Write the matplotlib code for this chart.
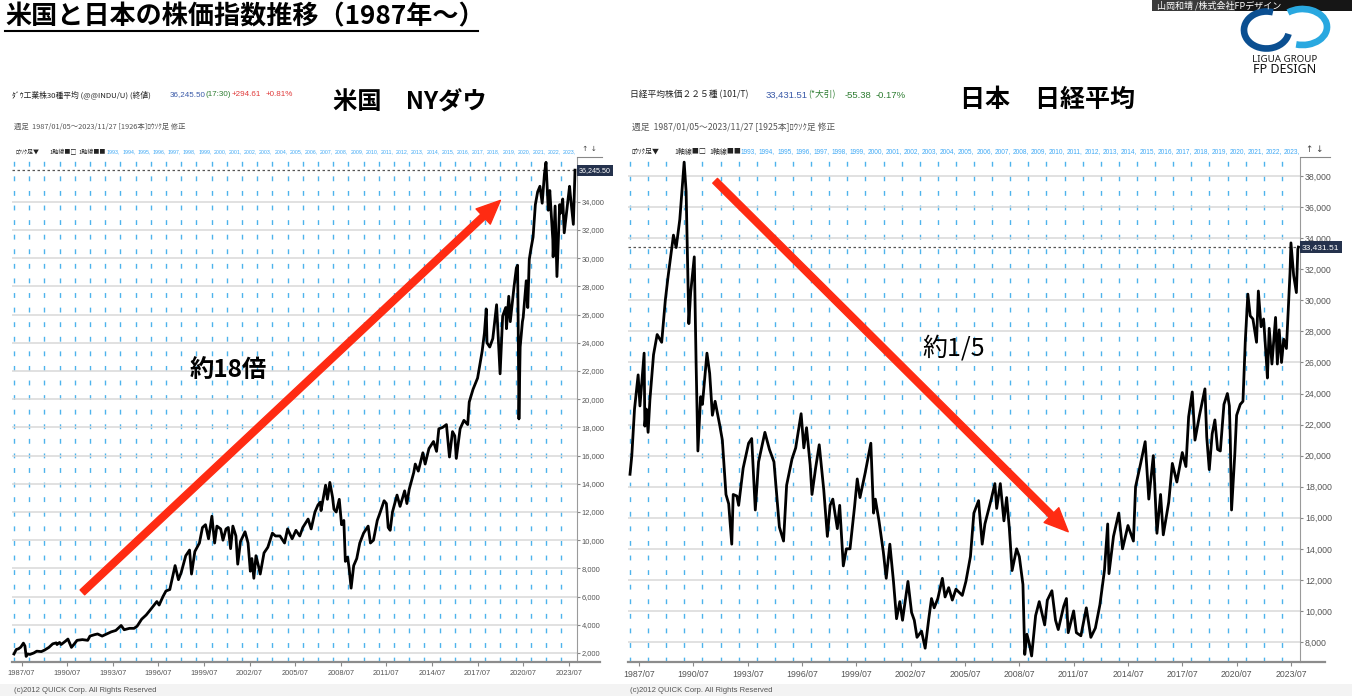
import matplotlib.pyplot as plt
from matplotlib.patches import Rectangle, Arc

plt.rcParams['font.family'] = ['Noto Sans CJK JP', 'DejaVu Sans']
narrow = ['Liberation Sans Narrow', 'Liberation Sans', 'DejaVu Sans']

# ---- data (decimal year, index value) ----
us_t = [1987.00, 1987.15, 1987.30, 1987.45, 1987.62, 1987.72, 1987.80, 1987.90,
        1988.05, 1988.30, 1988.50, 1988.80, 1989.00, 1989.30, 1989.55, 1989.78,
        1989.83, 1990.00, 1990.10, 1990.40, 1990.55, 1990.78, 1990.95, 1991.15,
        1991.50, 1991.85, 1992.00, 1992.30, 1992.50, 1992.80, 1993.00, 1993.40,
        1993.70, 1994.05, 1994.25, 1994.60, 1994.90, 1995.10, 1995.40, 1995.70,
        1996.00, 1996.40, 1996.55, 1996.80, 1997.00, 1997.25, 1997.50, 1997.60,
        1997.82, 1998.00, 1998.30, 1998.55, 1998.68, 1998.90, 1999.20, 1999.40,
        1999.60, 1999.80, 2000.02, 2000.20, 2000.35, 2000.60, 2000.75, 2000.95,
        2001.10, 2001.25, 2001.40, 2001.60, 2001.72, 2001.90, 2002.20, 2002.40,
        2002.55, 2002.65, 2002.78, 2002.92, 2003.10, 2003.20, 2003.45, 2003.70,
        2004.00, 2004.20, 2004.50, 2004.80, 2005.00, 2005.30, 2005.55, 2005.80,
        2006.00, 2006.35, 2006.55, 2006.80, 2007.00, 2007.15, 2007.20, 2007.50,
        2007.62, 2007.78, 2007.95, 2008.05, 2008.20, 2008.40, 2008.55, 2008.70,
        2008.80, 2008.95, 2009.05, 2009.18, 2009.35, 2009.55, 2009.75, 2010.00,
        2010.30, 2010.45, 2010.65, 2010.90, 2011.10, 2011.35, 2011.50, 2011.62,
        2011.75, 2011.90, 2012.20, 2012.40, 2012.70, 2012.85, 2013.00, 2013.30,
        2013.40, 2013.60, 2013.90, 2014.05, 2014.30, 2014.60, 2014.80, 2014.95,
        2015.20, 2015.45, 2015.65, 2015.85, 2016.00, 2016.10, 2016.35, 2016.60,
        2016.85, 2016.95, 2017.20, 2017.50, 2017.80, 2017.95, 2018.07, 2018.12,
        2018.30, 2018.50, 2018.75, 2018.85, 2018.98, 2019.15, 2019.35, 2019.40,
        2019.55, 2019.65, 2019.90, 2020.05, 2020.13, 2020.17, 2020.22, 2020.30,
        2020.45, 2020.50, 2020.70, 2020.80, 2020.90, 2021.00, 2021.15, 2021.30,
        2021.45, 2021.60, 2021.75, 2021.90, 2022.00, 2022.15, 2022.25, 2022.45,
        2022.47, 2022.60, 2022.72, 2022.90, 2022.97, 2023.10, 2023.20, 2023.40,
        2023.55, 2023.60, 2023.80, 2023.91]
us_v = [1930, 2250, 2300, 2420, 2700, 2500, 1760, 1930,
        1900, 2000, 2130, 2100, 2200, 2400, 2650, 2720,
        2600, 2750, 2600, 2850, 2990, 2400, 2620, 2900,
        2950, 2900, 3200, 3300, 3350, 3200, 3300, 3500,
        3600, 3950, 3650, 3750, 3750, 3900, 4400, 4700,
        5100, 5650, 5400, 6000, 6400, 6500, 7700, 8200,
        7200, 7700, 8900, 9300, 7600, 9200, 9800, 10900,
        11100, 10100, 11700, 9800, 11000, 10800, 10000, 10800,
        10900, 9400, 11000, 10300, 8300, 9900, 10600, 9800,
        7800, 8700, 7300, 8900, 8100, 7600, 9100, 9500,
        10500, 10300, 10300, 9800, 10800, 10100, 10700, 10300,
        10900, 11500, 10800, 12000, 12500, 12700, 12100, 13900,
        12900, 14100, 13100, 12200, 12000, 12900, 11100, 11400,
        8500, 8800, 8000, 6600, 8200, 8700, 9800, 10500,
        11000, 9800, 10000, 11400, 12000, 12800, 12600, 10900,
        10700, 12000, 13200, 12400, 13500, 12600, 13600, 14800,
        15400, 14900, 16200, 15400, 16500, 17000, 16300, 17900,
        18000, 18200, 15900, 17700, 17400, 15800, 17900, 18500,
        18200, 19800, 20700, 21500, 23400, 24700, 26400, 24000,
        23700, 24300, 26700, 24500, 21800, 25900, 26500, 25000,
        27300, 25500, 28000, 29300, 29500, 25400, 18600, 23700,
        25500, 25800, 28400, 26500, 29900, 30600, 31500, 33800,
        34700, 35100, 33900, 36000, 36800, 33400, 34800, 31300,
        30100, 33700, 28700, 33800, 33200, 34200, 31800, 33700,
        35100, 34500, 32400, 36245]

jp_t = [1987.00, 1987.10, 1987.25, 1987.45, 1987.55, 1987.78, 1987.82, 1987.90,
        1988.00, 1988.10, 1988.30, 1988.50, 1988.75, 1988.95, 1989.10, 1989.40,
        1989.55, 1989.75, 1989.99, 1990.10, 1990.25, 1990.35, 1990.55, 1990.65,
        1990.75, 1990.90, 1991.00, 1991.25, 1991.40, 1991.55, 1991.70, 1991.95,
        1992.10, 1992.30, 1992.45, 1992.62, 1992.70, 1992.90, 1993.00, 1993.25,
        1993.55, 1993.72, 1993.92, 1994.10, 1994.45, 1994.70, 1994.95, 1995.10,
        1995.25, 1995.48, 1995.65, 1995.95, 1996.15, 1996.45, 1996.60, 1996.75,
        1996.95, 1997.05, 1997.25, 1997.45, 1997.70, 1997.90, 1998.05, 1998.20,
        1998.45, 1998.58, 1998.78, 1998.95, 1999.15, 1999.40, 1999.55, 1999.70,
        1999.99, 2000.30, 2000.45, 2000.55, 2000.75, 2000.99, 2001.15, 2001.35,
        2001.55, 2001.72, 2001.90, 2002.05, 2002.35, 2002.55, 2002.70, 2002.85,
        2003.10, 2003.30, 2003.50, 2003.65, 2003.80, 2004.00, 2004.25, 2004.40,
        2004.60, 2004.80, 2005.00, 2005.35, 2005.55, 2005.80, 2005.99, 2006.25,
        2006.45, 2006.60, 2006.95, 2007.15, 2007.25, 2007.45, 2007.65, 2007.80,
        2007.95, 2008.10, 2008.35, 2008.50, 2008.70, 2008.80, 2008.92, 2009.05,
        2009.18, 2009.40, 2009.60, 2009.90, 2010.05, 2010.30, 2010.50, 2010.65,
        2010.95, 2011.10, 2011.20, 2011.50, 2011.65, 2011.90, 2012.20, 2012.45,
        2012.70, 2012.95, 2013.20, 2013.38, 2013.45, 2013.70, 2013.99, 2014.20,
        2014.50, 2014.80, 2014.92, 2015.20, 2015.45, 2015.65, 2015.90, 2016.10,
        2016.30, 2016.45, 2016.75, 2016.95, 2017.20, 2017.50, 2017.70, 2017.85,
        2018.05, 2018.20, 2018.45, 2018.75, 2018.85, 2018.99, 2019.15, 2019.30,
        2019.45, 2019.60, 2019.80, 2019.99, 2020.10, 2020.15, 2020.22, 2020.40,
        2020.50, 2020.70, 2020.85, 2020.98, 2021.12, 2021.25, 2021.40, 2021.60,
        2021.70, 2021.85, 2021.99, 2022.15, 2022.20, 2022.30, 2022.45, 2022.65,
        2022.75, 2022.85, 2022.98, 2023.10, 2023.25, 2023.45, 2023.50, 2023.65,
        2023.80, 2023.88, 2023.91]
jp_v = [18800, 20000, 23000, 25200, 23200, 26600, 21900, 23000,
        21500, 23600, 26500, 27800, 27300, 30000, 31500, 34200,
        33400, 35200, 38900, 37000, 28500, 30500, 32800, 26000,
        20300, 23800, 23300, 26600, 25300, 22600, 23500, 22000,
        21000, 17500, 16900, 14300, 17500, 17400, 16800, 19200,
        20800, 21100, 16500, 19600, 21500, 20400, 19600, 17500,
        15400, 14500, 18100, 19800, 20500, 22700, 20500, 21800,
        19400, 17500, 19200, 20700, 17800, 14800, 16800, 17200,
        15300, 16800, 12900, 14000, 14000, 16700, 18500, 17300,
        18900, 20800, 16300, 17200, 15800, 13800, 12100, 14300,
        11900, 9500, 10600, 9400, 11900, 9900, 9400, 8300,
        8700, 7600, 9500, 10800, 10200, 10800, 12100, 10900,
        11500, 10700, 11400, 11000, 11900, 13500, 16300, 17100,
        14300, 15600, 17200, 18200, 16600, 18200, 15800, 17300,
        15300, 12600, 14000, 13500, 11700, 7200, 8500, 7900,
        7100, 9700, 10600, 9100, 10700, 11300, 9400, 8800,
        10300, 10800, 8600, 10000, 8600, 8400, 10200, 8300,
        8900, 10400, 12600, 15600, 12400, 14800, 16300, 14000,
        15500, 14500, 18000, 19500, 20900, 17200, 20000, 15000,
        17500, 14900, 17000, 19500, 18300, 20200, 19300, 22500,
        24100, 21000, 22600, 24300, 21200, 19100, 21400, 22300,
        20400, 20300, 23300, 24000, 23200, 21100, 16500, 20100,
        22600, 23300, 23500, 27400, 30400, 29000, 28800, 27300,
        30600, 28300, 28800, 26000, 25000, 28200, 25900, 28900,
        25900, 28100, 26000, 27500, 26900, 31800, 33700, 31600,
        30500, 33300, 33432]

us_last = 36245.50
jp_last = 33431.51

us_yticks = [2000, 4000, 6000, 8000, 10000, 12000, 14000, 16000, 18000,
             20000, 22000, 24000, 26000, 28000, 30000, 32000, 34000]
jp_yticks = [8000, 10000, 12000, 14000, 16000, 18000, 20000, 22000, 24000,
             26000, 28000, 30000, 32000, 34000, 36000, 38000]
xtick_pos = [1987.5, 1990.5, 1993.5, 1996.5, 1999.5, 2002.5, 2005.5,
             2008.5, 2011.5, 2014.5, 2017.5, 2020.5, 2023.5]
xtick_labels = ['1987/07', '1990/07', '1993/07', '1996/07', '1999/07', '2002/07',
                '2005/07', '2008/07', '2011/07', '2014/07', '2017/07', '2020/07',
                '2023/07']
grid_years = list(range(1987, 2024))
top_years = list(range(1993, 2024))

# trend arrows (tail, head) in data units
us_arrow = ((1991.5, 6300), (2019.0, 34100))
jp_arrow = ((1991.7, 37700), (2011.2, 15100))

W, H = 1352, 696
fig = plt.figure(figsize=(W / 100, H / 100), dpi=100)
fig.patch.set_facecolor('white')


def px_rect(x0, y0, x1, y1):
    return [x0 / W, 1 - y1 / H, (x1 - x0) / W, (y1 - y0) / H]


def stock_panel(rect, xlim, ylim, t, v, yticks, last, fs, arrow):
    ax = fig.add_axes(rect)
    ax.plot(t, v, color='black', lw=2.0, zorder=3)
    ax.set_xlim(*xlim)
    ax.set_ylim(*ylim)
    ax.set_yticks(yticks)
    ax.set_yticklabels([f'{y:,}' for y in yticks])
    ax.yaxis.tick_right()
    ax.set_xticks(xtick_pos)
    ax.set_xticklabels(xtick_labels)
    ax.set_xticks(grid_years, minor=True)
    ax.grid(axis='y', which='major', color='#d9d9d9', lw=1.1)
    ax.grid(axis='x', which='minor', color='#4db3ec', lw=1.0, linestyle=(0, (3.5, 7)))
    ax.grid(axis='x', which='major', visible=False)
    ax.tick_params(axis='x', which='minor', length=0)
    ax.tick_params(axis='x', which='major', length=3, color='#888', labelsize=fs,
                   labelcolor='#555', pad=3)
    ax.tick_params(axis='y', length=2.5, color='#888', labelsize=fs,
                   labelcolor='#555', pad=1)
    plt.setp(ax.get_xticklabels() + ax.get_yticklabels(), family=narrow)
    for s in ['left', 'top', 'bottom']:
        ax.spines[s].set_visible(False)
    ax.spines['right'].set_color('#9a9a9a')
    ax.spines['right'].set_linewidth(0.8)
    ax.axhline(last, color='#555', lw=0.9, ls=(0, (2, 2)), zorder=2)
    ax.text(1.003, last, f'{last:,.2f}', transform=ax.get_yaxis_transform(),
            ha='left', va='center', fontsize=fs - 0.3, color='white', family=narrow,
            bbox=dict(boxstyle='square,pad=0.3', fc='#25324d', ec='none'), zorder=6)
    # year labels in the toolbar row
    for yr in top_years:
        ax.text(yr + 0.12, 1.012, f'{yr},', transform=ax.get_xaxis_transform(),
                fontsize=fs - 1.6, color='#3fa9f5', ha='left', va='center',
                family=narrow, clip_on=False)
    (tx, ty), (hx, hy) = arrow
    ax.annotate('', xy=(hx, hy), xytext=(tx, ty), annotation_clip=False,
                arrowprops=dict(arrowstyle='simple,head_length=0.85,head_width=0.75,tail_width=0.24',
                                color='#ff2b12', mutation_scale=20, shrinkA=0, shrinkB=0),
                zorder=5)
    return ax


ax_us = stock_panel(px_rect(12, 158, 577, 662), (1986.87, 2024.04), (1362, 37106),
                    us_t, us_v, us_yticks, us_last, 5.4, us_arrow)
ax_jp = stock_panel(px_rect(628, 158, 1300, 662), (1986.89, 2024.0), (6712, 39166),
                    jp_t, jp_v, jp_yticks, jp_last, 6.3, jp_arrow)

# ---- slide decoration in pixel coordinates ----
deco = fig.add_axes([0, 0, 1, 1], zorder=10)
deco.set_xlim(0, W)
deco.set_ylim(H, 0)
deco.axis('off')
deco.patch.set_alpha(0)


def T(x, y, s, size, color='black', weight='normal', ha='left', va='center', **kw):
    deco.text(x, y, s, fontsize=size, color=color, fontweight=weight, ha=ha, va=va, **kw)


# title
T(5, 17, '米国と日本の株価指数推移（1987年～）', 18.8, weight='bold')
deco.plot([5, 478], [31, 31], color='black', lw=1.5)

# top-right presenter bar and logo
deco.add_patch(Rectangle((1152, 0), 200, 11, fc='#3a3a3a', ec='none'))
deco.add_patch(Rectangle((1235, 0), 117, 11, fc='#161616', ec='none'))
T(1157, 5.5, '山岡和靖 /株式会社FPデザイン', 6.5, color='white')
deco.add_patch(Arc((1266.5, 30), 45, 37, theta1=10, theta2=290, color='#0b4f91', lw=4.8))
deco.add_patch(Arc((1302.5, 27), 49, 36, theta1=-135, theta2=110, color='#29a8e0', lw=4.8))
T(1285, 59.5, 'LIGUA GROUP', 7, color='#1d1d1d', ha='center', family=['Noto Sans'])
T(1285, 69.5, 'FP DESIGN', 9, color='#111', weight='bold', ha='center', family=['Noto Sans'])

# left chart headers
T(12, 95, 'ﾀﾞｳ工業株30種平均 (@@INDU/U) (終値)', 5.6, color='#222')
T(170, 95, '36,245.50', 5.8, color='#3a5aa8', family=narrow)
T(206, 95, '(17:30)', 5.8, color='#2e7d32', family=narrow)
T(232, 95, '+294.61', 5.8, color='#e03a3a', family=narrow)
T(266, 95, '+0.81%', 5.8, color='#e03a3a', family=narrow)
T(333, 103, '米国　NYダウ', 17.5, weight='bold')
T(14, 127, '週足  1987/01/05～2023/11/27 [1926本]ﾛｳｿｸ足 修正', 5.3, color='#555')
T(15, 152, 'ﾛｳｿｸ足▼', 4.3, color='#222')
T(49, 152, '1軸線■□', 4.3, color='#222')
T(78, 152, '1軸線■■', 4.3, color='#222')
deco.plot([577, 602], [157, 157], color='#888', lw=0.8)
T(589, 149, '↑ ↓', 5.4, color='#444', ha='center', family=['DejaVu Sans'])

# right chart headers
T(630, 95, '日経平均株価２２５種 (101/T)', 6.3, color='#222')
T(766, 95, '33,431.51', 6.8, color='#3a5aa8', family=narrow)
T(808, 95, '(*大引)', 6.3, color='#2e7d32')
T(845, 95, '-55.38', 6.8, color='#2e7d32', family=narrow)
T(876, 95, '-0.17%', 6.8, color='#2e7d32', family=narrow)
T(960, 100, '日本　日経平均', 18, weight='bold')
T(632, 127, '週足  1987/01/05～2023/11/27 [1925本]ﾛｳｿｸ足 修正', 6.3, color='#555')
T(632, 152, 'ﾛｳｿｸ足▼', 5, color='#222')
T(674, 152, '1軸線■□', 5, color='#222')
T(709, 152, '1軸線■■', 5, color='#222')
deco.plot([1300, 1330], [157, 157], color='#888', lw=0.8)
T(1315, 149, '↑ ↓', 6.3, color='#444', ha='center', family=['DejaVu Sans'])

# bottom axis bars
deco.plot([12, 600], [662, 662], color='#8c8c8c', lw=1.6)
deco.plot([628, 1325], [662, 662], color='#8c8c8c', lw=1.6)

# annotations
T(190, 370, '約18倍', 17.5, weight='bold')
T(922, 349, '約1/5', 18)

# copyright strip
deco.add_patch(Rectangle((0, 684), W, 12, fc='#f3f3f3', ec='none', zorder=0))
T(14, 691, '(c)2012 QUICK Corp. All Rights Reserved', 5.5, color='#555', family=narrow)
T(630, 691, '(c)2012 QUICK Corp. All Rights Reserved', 5.5, color='#555', family=narrow)

fig.savefig('out.png', dpi=100, facecolor='white')
